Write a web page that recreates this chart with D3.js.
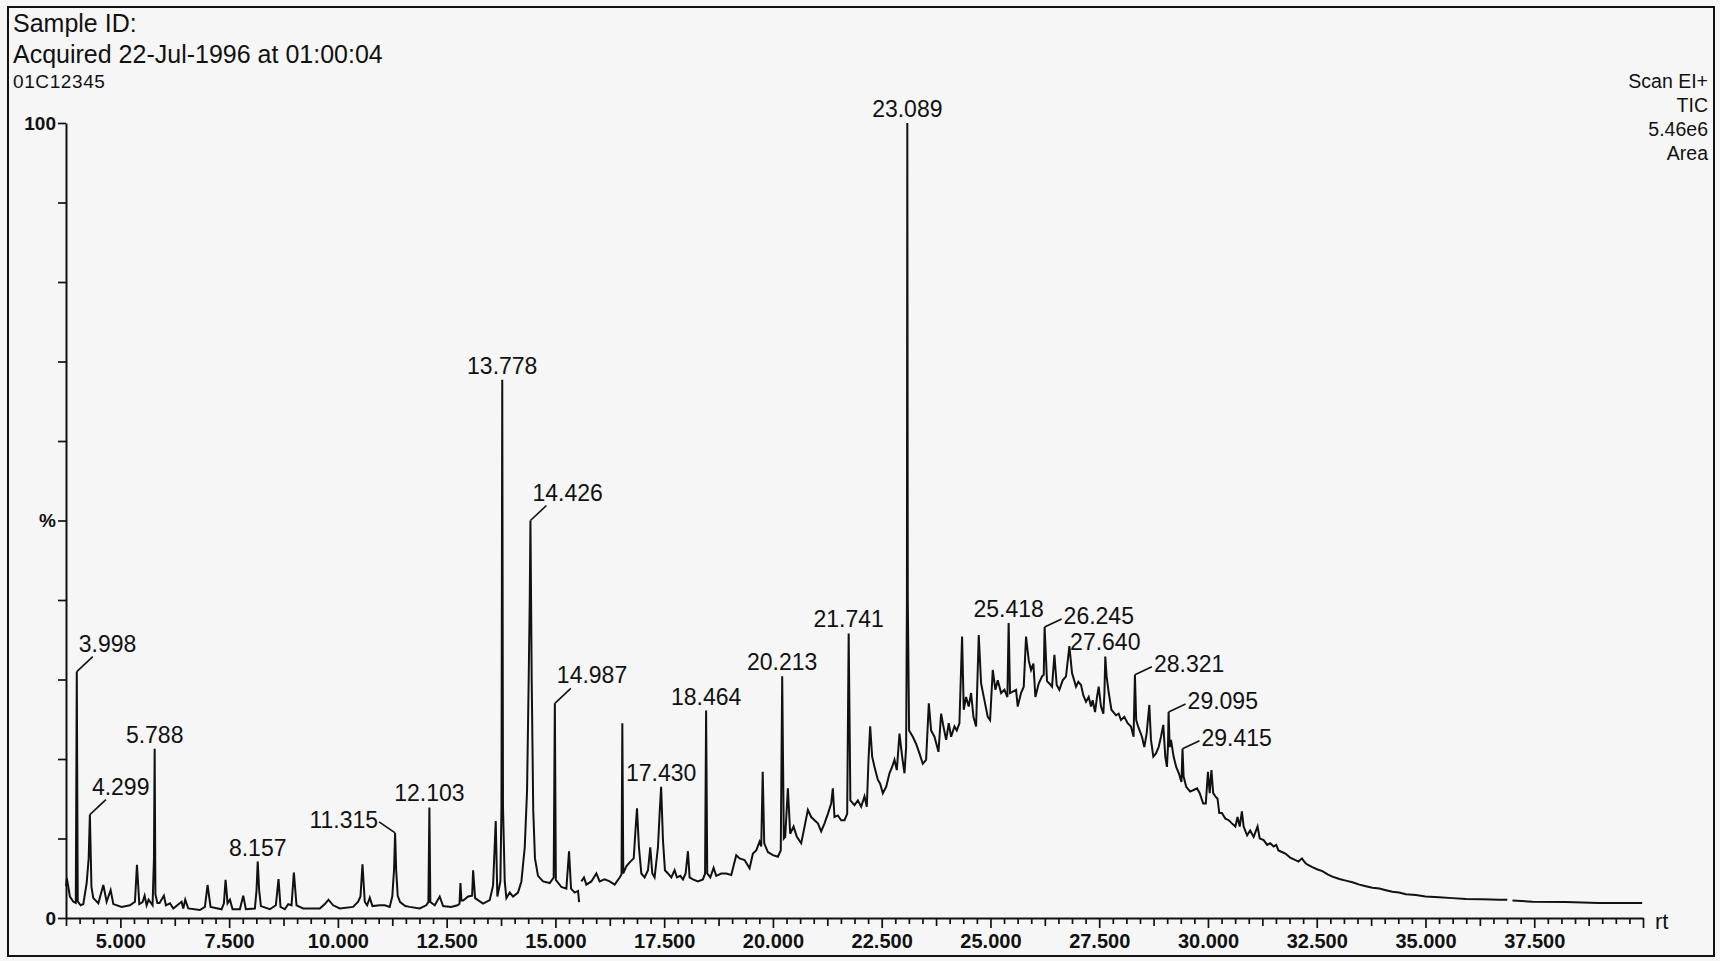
<!DOCTYPE html>
<html><head><meta charset="utf-8">
<script src="https://cdn.jsdelivr.net/npm/d3@7"></script>
<style>
html,body{margin:0;padding:0;background:#f6f6f6;}
svg{display:block;}
text{font-family:"Liberation Sans",Arial,Helvetica,sans-serif;fill:#111;}
</style></head><body>
<svg id="c" width="1720" height="961"></svg>
<script>
// ---------- data ----------
const headerLines = ["Sample ID:", "Acquired 22-Jul-1996 at 01:00:04"];
const sampleCode = "01C12345";
const infoLines = ["Scan EI+", "TIC", "5.46e6", "Area"];
const xTickLabels = [5, 7.5, 10, 12.5, 15, 17.5, 20, 22.5, 25, 27.5, 30, 32.5, 35, 37.5];
const yTickLabels = {0: "0", 50: "%", 100: "100"};
const xAxisName = "rt";

// TIC trace: [retention time (min), relative intensity (%)]; null = break in trace
const tic = [
[3.75,4.0],[3.77,5.0],[3.84,2.7],[3.92,2.05],[3.975,1.9],[3.998,31.0],[4.02,2.1],[4.087,1.6],[4.148,1.75],
[4.225,4.4],[4.271,7.5],[4.299,13.0],[4.335,3.9],[4.378,2.5],[4.493,1.85],[4.608,4.15],[4.684,2.05],[4.776,3.5],
[4.838,1.75],[5.029,1.4],[5.22,1.6],[5.335,2.05],[5.381,6.7],[5.435,1.75],[5.51,2.0],[5.557,2.8],[5.603,1.6],
[5.649,2.3],[5.74,1.6],[5.772,7.5],[5.788,21.3],[5.805,3.0],[5.85,1.9],[5.9,1.9],[6.0,2.8],[6.047,1.6],[6.14,1.85],
[6.216,1.2],[6.407,2.05],[6.445,1.2],[6.491,2.3],[6.56,1.2],[6.828,1.0],[6.943,1.4],[7.004,4.15],[7.073,1.4],
[7.326,1.1],[7.38,1.85],[7.418,4.8],[7.464,1.85],[7.518,2.3],[7.579,1.1],[7.747,1.1],[7.824,2.8],[7.885,1.1],
[8.092,1.2],[8.13,3.5],[8.157,7.1],[8.19,3.5],[8.23,1.5],[8.436,1.1],[8.574,1.6],[8.635,4.9],[8.681,1.4],
[8.78,1.1],[8.857,1.75],[8.934,1.6],[8.988,5.7],[9.049,1.6],[9.202,1.2],[9.585,1.2],[9.7,1.75],[9.784,2.3],
[9.891,1.6],[10.044,1.2],[10.35,1.4],[10.465,2.05],[10.519,2.7],[10.565,6.75],[10.618,2.05],[10.672,1.6],
[10.733,2.55],[10.794,1.5],[10.963,1.6],[11.078,1.6],[11.19,1.4],[11.25,2.7],[11.29,6.0],[11.315,10.7],
[11.34,6.0],[11.375,2.8],[11.43,2.0],[11.55,1.5],[11.65,1.4],[11.88,1.2],[12.03,1.6],[12.08,2.0],[12.103,13.9],
[12.125,2.0],[12.226,1.6],[12.34,2.7],[12.418,1.5],[12.6,1.4],[12.75,1.6],[12.795,1.8],[12.817,4.4],[12.84,2.2],
[12.88,2.2],[12.993,2.7],[13.085,2.8],[13.108,6.0],[13.154,2.5],[13.337,1.8],[13.49,2.25],[13.567,4.1],
[13.628,12.2],[13.665,2.7],[13.735,4.6],[13.76,14.0],[13.778,67.7],[13.795,14.0],[13.835,4.6],[13.873,2.5],
[13.95,3.2],[14.026,2.7],[14.14,3.2],[14.218,4.6],[14.295,8.9],[14.348,16.0],[14.386,30.1],[14.41,40.0],
[14.426,50.0],[14.455,30.0],[14.49,13.6],[14.53,7.5],[14.6,5.3],[14.716,4.6],[14.869,4.4],[14.96,5.1],
[14.987,27.0],[15.01,4.8],[15.137,3.9],[15.252,3.7],[15.313,8.4],[15.359,3.7],[15.443,3.2],[15.52,3.4],
[15.545,2.0],[15.57,null],[15.596,4.6],[15.657,5.1],[15.711,4.2],[15.826,4.6],[15.941,5.6],[16.017,4.6],
[16.132,4.85],[16.247,4.6],[16.362,4.2],[16.477,5.1],[16.52,5.5],[16.538,24.5],[16.56,5.6],[16.63,6.5],
[16.706,7.0],[16.8,7.5],[16.84,11.0],[16.875,13.8],[16.92,8.9],[16.975,5.6],[17.05,5.1],[17.128,6.0],
[17.18,8.9],[17.227,5.6],[17.28,5.1],[17.357,8.9],[17.395,13.1],[17.43,16.5],[17.472,9.8],[17.518,6.0],
[17.587,5.6],[17.664,5.1],[17.74,6.0],[17.794,5.1],[17.87,5.3],[17.932,4.85],[17.993,5.6],[18.046,8.4],
[18.085,5.1],[18.161,4.85],[18.276,4.6],[18.391,4.85],[18.44,5.6],[18.464,26.1],[18.49,5.6],[18.56,5.1],
[18.636,6.3],[18.697,5.3],[18.812,5.6],[18.927,5.6],[19.042,5.4],[19.157,7.9],[19.233,7.5],[19.348,7.3],
[19.463,6.25],[19.54,8.1],[19.616,8.5],[19.693,9.6],[19.731,9.0],[19.765,18.4],[19.8,9.4],[19.884,8.3],
[19.999,7.9],[20.114,7.7],[20.18,8.5],[20.213,30.4],[20.25,10.0],[20.282,10.2],[20.344,16.3],[20.397,10.6],
[20.474,11.5],[20.55,10.2],[20.65,9.4],[20.727,11.5],[20.803,13.6],[20.88,12.7],[20.956,12.3],[21.033,11.9],
[21.109,10.9],[21.186,11.9],[21.263,13.1],[21.339,14.4],[21.377,16.3],[21.415,12.7],[21.492,12.9],
[21.569,12.3],[21.645,12.3],[21.707,13.1],[21.741,35.8],[21.78,14.8],[21.875,14.2],[21.952,14.8],
[22.028,14.0],[22.105,15.3],[22.158,14.0],[22.197,19.9],[22.235,24.1],[22.281,20.3],[22.335,19.0],
[22.411,17.4],[22.465,16.9],[22.526,15.7],[22.603,16.5],[22.679,18.2],[22.74,19.0],[22.794,19.9],
[22.848,18.6],[22.909,23.2],[22.97,20.3],[23.024,18.2],[23.062,21.5],[23.08,40.0],[23.089,100.0],[23.1,40.0],
[23.13,23.6],[23.215,22.8],[23.292,21.9],[23.368,20.7],[23.445,19.4],[23.521,19.9],[23.583,27.0],[23.636,23.6],
[23.713,22.8],[23.805,20.9],[23.866,25.7],[23.919,24.1],[23.981,22.4],[24.042,24.5],[24.096,22.8],[24.172,24.1],
[24.226,23.6],[24.287,24.5],[24.348,35.4],[24.386,26.2],[24.44,27.8],[24.501,26.6],[24.555,28.3],[24.609,25.3],
[24.67,24.1],[24.731,35.6],[24.785,29.5],[24.861,27.4],[24.938,25.3],[24.992,24.9],[25.053,31.2],[25.114,28.7],
[25.168,29.9],[25.245,28.3],[25.321,28.7],[25.39,27.8],[25.418,37.1],[25.45,28.3],[25.589,28.7],[25.627,26.6],
[25.703,28.3],[25.765,29.1],[25.818,35.4],[25.88,32.4],[25.933,31.2],[25.987,32.0],[26.033,27.8],[26.109,29.5],
[26.186,30.4],[26.225,30.6],[26.245,36.6],[26.3,29.8],[26.354,29.5],[26.416,29.1],[26.47,33.1],[26.523,29.3],
[26.584,28.7],[26.661,29.9],[26.737,30.4],[26.814,34.2],[26.875,30.8],[26.967,29.1],[27.02,29.7],[27.082,29.3],
[27.136,28.0],[27.197,27.2],[27.258,27.8],[27.312,26.6],[27.35,27.4],[27.404,25.9],[27.45,27.8],[27.488,29.1],
[27.541,26.6],[27.595,25.7],[27.62,28.3],[27.64,32.9],[27.67,30.4],[27.72,28.3],[27.78,26.2],[27.886,25.5],
[27.947,25.7],[28.001,24.9],[28.077,25.3],[28.154,24.5],[28.23,24.1],[28.29,22.8],[28.321,30.6],[28.35,24.9],
[28.4,24.0],[28.483,22.8],[28.537,21.5],[28.59,23.2],[28.652,26.8],[28.69,22.4],[28.744,20.3],[28.805,20.7],
[28.866,21.5],[28.92,22.8],[28.973,24.3],[29.019,20.3],[29.057,19.0],[29.08,21.5],[29.095,25.9],[29.12,21.5],
[29.15,22.4],[29.21,20.3],[29.27,19.0],[29.33,18.2],[29.39,17.1],[29.415,21.3],[29.44,17.8],[29.5,16.5],
[29.59,15.9],[29.67,16.1],[29.75,16.3],[29.81,15.7],[29.89,14.4],[29.95,14.4],[30.0,18.4],[30.04,15.7],
[30.08,18.6],[30.12,15.7],[30.17,15.3],[30.22,15.0],[30.26,13.2],[30.32,13.2],[30.4,12.5],[30.48,12.3],
[30.55,11.9],[30.63,11.5],[30.68,12.7],[30.73,11.5],[30.78,13.4],[30.82,11.5],[30.9,10.4],[30.97,11.0],
[31.05,10.2],[31.14,11.5],[31.19,10.0],[31.28,9.8],[31.36,9.2],[31.43,9.4],[31.51,9.0],[31.57,9.2],[31.62,8.5],
[31.7,8.3],[31.78,8.1],[31.89,7.6],[32.0,7.3],[32.08,7.1],[32.16,7.5],[32.24,6.9],[32.29,6.7],[32.4,6.4],
[32.52,6.1],[32.63,5.9],[32.75,5.5],[32.86,5.2],[33.02,4.9],[33.17,4.7],[33.32,4.5],[33.48,4.2],[33.63,4.0],
[33.78,3.8],[33.94,3.7],[34.09,3.5],[34.24,3.3],[34.39,3.2],[34.55,3.0],[34.78,2.9],[35.0,2.7],[35.31,2.6],
[35.62,2.5],[35.93,2.4],[36.31,2.35],[36.69,2.3],[36.88,2.3],[36.94,null],[37.0,2.2],[37.46,2.05],[38.22,2.0],
[38.99,1.9],[39.98,1.9]
];

// labelled peaks (retention times) and where their label sits
const peakTimes = [3.998, 4.299, 5.788, 8.157, 11.315, 12.103, 13.778, 14.426, 14.987, 17.430, 18.464,
                   20.213, 21.741, 23.089, 25.418, 26.245, 27.640, 28.321, 29.095, 29.415];
const peakLabelKind = ["upRight","upRight","above","above","left","above","above","upRight","upRight","above","above",
                       "above","above","above","above","side","above","side","side","side"];

// ---------- drawing ----------
const svg = d3.select("#c");
const x = d3.scaleLinear().domain([3.75, 40]).range([66, 1643]);
const y = d3.scaleLinear().domain([0, 100]).range([918, 123]);
const ink = "#111";

// frame
svg.append("rect").attr("x", 8).attr("y", 7).attr("width", 1706).attr("height", 949)
  .attr("fill", "none").attr("stroke", ink).attr("stroke-width", 2);

// header
svg.append("text").attr("x", 13).attr("y", 32).attr("font-size", 25).text(headerLines[0]);
svg.append("text").attr("x", 13).attr("y", 63).attr("font-size", 25).text(headerLines[1]);
svg.append("text").attr("x", 13).attr("y", 88).attr("font-size", 19).attr("letter-spacing", 0.6).text(sampleCode);
infoLines.forEach((t, i) => {
  svg.append("text").attr("x", 1708).attr("y", 88 + i * 24).attr("font-size", 19.5)
    .attr("text-anchor", "end").text(t);
});

// x axis
const xTicks = d3.range(0, 117).map(k => 3.75 + k * 0.3125);
const fmt = d3.format(".3f");
const xAxis = d3.axisBottom(x).tickValues(xTicks).tickSizeOuter(0)
  .tickFormat(d => xTickLabels.includes(d) ? fmt(d) : "");
const gx = svg.append("g").attr("transform", `translate(0,${y(0)})`).call(xAxis);
gx.select(".domain").attr("stroke", ink).attr("stroke-width", 2);
gx.selectAll(".tick line").attr("stroke", ink).attr("stroke-width", 1.7)
  .attr("y2", d => (d % 2.5 === 0) ? 10 : (d % 1.25 === 0 ? 8 : 6));
gx.selectAll(".tick text").attr("y", 30).attr("dy", 0).attr("font-size", 20).attr("font-weight", "bold")
  .attr("font-family", "Liberation Sans, Arial, sans-serif").attr("fill", ink);
svg.append("text").attr("x", 1655).attr("y", 929).attr("font-size", 22).text(xAxisName);

// y axis
const yAxis = d3.axisLeft(y).tickValues(d3.range(0, 101, 10)).tickSize(8).tickSizeOuter(0)
  .tickFormat(d => yTickLabels[d] || "");
const gy = svg.append("g").attr("transform", `translate(${x(3.75)},0)`).call(yAxis);
gy.select(".domain").attr("stroke", ink).attr("stroke-width", 2);
gy.selectAll(".tick line").attr("stroke", ink).attr("stroke-width", 1.7);
gy.selectAll(".tick text").attr("x", -10).attr("font-size", 19).attr("font-weight", "bold")
  .attr("font-family", "Liberation Sans, Arial, sans-serif").attr("fill", ink);

// trace
const line = d3.line().defined(d => d[1] !== null).x(d => x(d[0])).y(d => y(d[1]));
svg.append("path").datum(tic).attr("d", line).attr("fill", "none")
  .attr("stroke", ink).attr("stroke-width", 2).attr("stroke-linejoin", "miter");

// peak labels
const labels = svg.append("g");
peakTimes.forEach((t, i) => {
  const near = tic.filter(d => d[1] !== null && Math.abs(d[0] - t) < 0.002);
  const v = d3.max(near, d => d[1]);
  const ax = x(t), ay = y(v);
  const kind = peakLabelKind[i];
  const txt = fmt(t);
  if (kind === "above") {
    labels.append("text").attr("x", ax).attr("y", ay - 6).attr("text-anchor", "middle")
      .attr("font-size", 23).text(txt);
  } else if (kind === "upRight") {
    labels.append("line").attr("x1", ax).attr("y1", ay).attr("x2", ax + 16).attr("y2", ay - 15)
      .attr("stroke", ink).attr("stroke-width", 1.6);
    labels.append("text").attr("x", ax + 2).attr("y", ay - 20).attr("font-size", 23).text(txt);
  } else if (kind === "side") {
    labels.append("line").attr("x1", ax).attr("y1", ay).attr("x2", ax + 17).attr("y2", ay - 8)
      .attr("stroke", ink).attr("stroke-width", 1.6);
    labels.append("text").attr("x", ax + 19).attr("y", ay - 3).attr("font-size", 23).text(txt);
  } else if (kind === "left") {
    labels.append("line").attr("x1", ax - 16).attr("y1", ay - 11).attr("x2", ax).attr("y2", ay)
      .attr("stroke", ink).attr("stroke-width", 1.6);
    labels.append("text").attr("x", ax - 17).attr("y", ay - 5).attr("text-anchor", "end")
      .attr("font-size", 23).text(txt);
  }
});
</script>
</body></html>
